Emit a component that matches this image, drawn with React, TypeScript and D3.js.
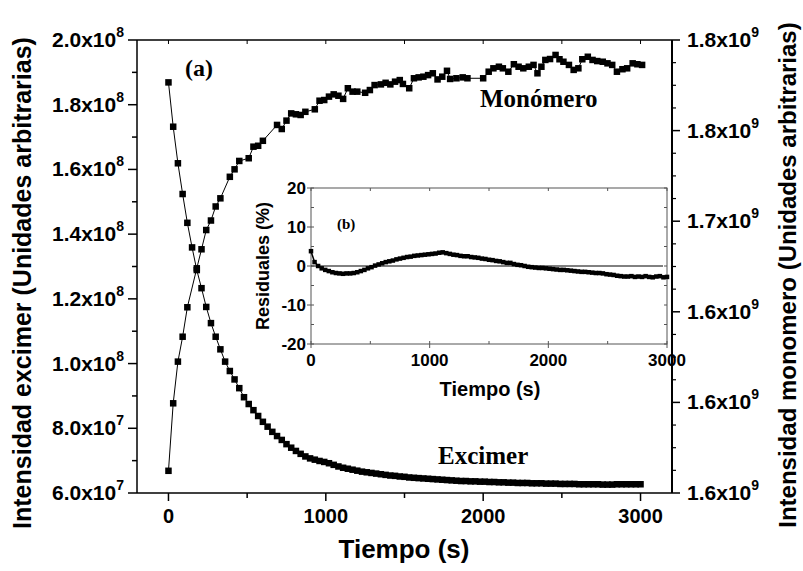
import * as d3 from "d3";

// sample times (s) shared by excimer and residual curves
const sampleTime = [
  0, 30, 60, 90, 120, 150, 180, 210, 240, 270, 300, 330, 360, 390, 420, 450, 480, 510, 540, 570,
  600, 630, 660, 690, 720, 750, 780, 810, 840, 870, 900, 930, 960, 990, 1020, 1050, 1080, 1110,
  1140, 1170, 1200, 1230, 1260, 1290, 1320, 1350, 1380, 1410, 1440, 1470, 1500, 1530, 1560, 1590,
  1620, 1650, 1680, 1710, 1740, 1770, 1800, 1830, 1860, 1890, 1920, 1950, 1980, 2010, 2040, 2070,
  2100, 2130, 2160, 2190, 2220, 2250, 2280, 2310, 2340, 2370, 2400, 2430, 2460, 2490, 2520, 2550,
  2580, 2610, 2640, 2670, 2700, 2730, 2760, 2790, 2820, 2850, 2880, 2910, 2940, 2970, 3000,
];

// excimer intensity, in units of 1e8
const excimer = [
  1.869, 1.732, 1.619, 1.524, 1.435, 1.359, 1.289, 1.233, 1.175, 1.125, 1.083, 1.044, 1.006, 0.977,
  0.951, 0.924, 0.896, 0.875, 0.856, 0.838, 0.82, 0.805, 0.789, 0.776, 0.764, 0.751, 0.74, 0.73,
  0.721, 0.713, 0.707, 0.703, 0.699, 0.696, 0.692, 0.687, 0.682, 0.678, 0.675, 0.672, 0.669, 0.666,
  0.664, 0.662, 0.66, 0.658, 0.656, 0.654, 0.653, 0.651, 0.65, 0.648, 0.647, 0.646, 0.645, 0.644,
  0.643, 0.642, 0.641, 0.64, 0.639, 0.638, 0.637, 0.637, 0.636, 0.636, 0.635, 0.635, 0.634, 0.634,
  0.633, 0.633, 0.632, 0.632, 0.631, 0.631, 0.631, 0.63, 0.63, 0.63, 0.629, 0.629, 0.629, 0.628,
  0.628, 0.628, 0.628, 0.627, 0.627, 0.627, 0.627, 0.627, 0.626, 0.626, 0.626, 0.627, 0.627, 0.627,
  0.627, 0.627, 0.627,
];

// residuals of the fit (%)
const residual = [
  3.8, 1.0, 0.0, -0.6, -1.0, -1.3, -1.6, -1.8, -1.9, -2.0, -1.9, -1.9, -1.8, -1.6, -1.3, -1.0, -0.6,
  -0.3, 0.1, 0.4, 0.7, 1.0, 1.2, 1.4, 1.7, 1.9, 2.1, 2.3, 2.4, 2.6, 2.7, 2.8, 2.9, 3.0, 3.1, 3.2,
  3.4, 3.5, 3.3, 3.1, 2.9, 2.8, 2.6, 2.5, 2.5, 2.3, 2.2, 2.1, 1.9, 1.8, 1.6, 1.5, 1.3, 1.2, 1.0,
  0.8, 0.8, 0.5, 0.3, 0.2, 0.0, -0.2, -0.3, -0.4, -0.5, -0.5, -0.6, -0.7, -0.8, -0.9, -1.0, -1.0,
  -1.1, -1.2, -1.3, -1.4, -1.5, -1.5, -1.6, -1.7, -1.8, -1.8, -1.9, -2.1, -2.2, -2.3, -2.5, -2.6,
  -2.7, -2.7, -2.6, -2.8, -2.7, -2.8, -2.6, -2.8, -2.9, -2.7, -2.6, -2.9, -2.8,
];

// monomer intensity (units of 1e9) and its own sample times
const monomerTime = [
  0, 30, 60, 90, 120, 180, 210, 240, 270, 300, 330, 390, 420, 450, 510, 540, 570, 600, 690, 720,
  750, 780, 810, 840, 870, 930, 960, 990, 1020, 1050, 1080, 1110, 1140, 1170, 1200, 1250, 1280,
  1310, 1350, 1380, 1410, 1440, 1470, 1490, 1530, 1560, 1590, 1620, 1650, 1680, 1710, 1740, 1770,
  1790, 1830, 1870, 1900, 2000, 2035, 2065, 2100, 2125, 2160, 2195, 2225, 2255, 2290, 2320, 2345,
  2370, 2395, 2425, 2460, 2485, 2510, 2545, 2575, 2605, 2630, 2665, 2695, 2725, 2760, 2790, 2820,
  2850, 2885, 2915, 2950, 2980, 3010,
];
const monomer = [
  1.6098, 1.6396, 1.658, 1.669, 1.682, 1.6992, 1.7076, 1.7161, 1.7203, 1.7265, 1.7301, 1.7396,
  1.7429, 1.7466, 1.7478, 1.7529, 1.7533, 1.7555, 1.7625, 1.7607, 1.7644, 1.7676, 1.7672, 1.7669,
  1.7683, 1.7694, 1.7732, 1.7735, 1.775, 1.776, 1.7754, 1.774, 1.7787, 1.7772, 1.7772, 1.7767,
  1.7779, 1.7801, 1.7804, 1.7811, 1.7804, 1.7816, 1.7823, 1.7806, 1.7787, 1.7831, 1.7835, 1.7838,
  1.7845, 1.7853, 1.7826, 1.7838, 1.7864, 1.7828, 1.7831, 1.7835, 1.7831, 1.7831, 1.786, 1.7875,
  1.7882, 1.7875, 1.786, 1.7893, 1.7882, 1.7875, 1.7882, 1.789, 1.7853, 1.7882, 1.7912, 1.7916,
  1.7934, 1.7915, 1.7904, 1.789, 1.7868, 1.7875, 1.7915, 1.7926, 1.7912, 1.7907, 1.7904, 1.7897,
  1.789, 1.786, 1.7871, 1.7875, 1.7897, 1.7893, 1.789,
];

const timeTicks = [0, 1000, 2000, 3000];
const timeMinor = [500, 1500, 2500];
const leftTicks = [6e7, 8e7, 1e8, 1.2e8, 1.4e8, 1.6e8, 1.8e8, 2e8];
const rightTicks = [1.6e9, 1.64e9, 1.68e9, 1.72e9, 1.76e9, 1.8e9];
const rightLabels = ["1.6", "1.6", "1.6", "1.7", "1.8", "1.8"];
const residTicks = [-20, -10, 0, 10, 20];
const residMinor = [-15, -5, 5, 15];
const insetTimeTicks = [0, 1000, 2000, 3000];

const SANS = "'Liberation Sans', Arial, sans-serif";
const SERIF = "'Liberation Serif', 'Times New Roman', serif";

const W = 803;
const H = 571;
const fr = { left: 137, right: 672, top: 40, bottom: 493 };
const ins = { left: 311, right: 667, top: 188, bottom: 344 };

function Sci({ x, y, mant, exp, anchor }) {
  return (
    <text x={x} y={y} textAnchor={anchor} fontFamily={SANS} fontWeight="bold" fontSize={21}>
      {mant}x10
      <tspan dy={-10} fontSize={14}>
        {exp}
      </tspan>
    </text>
  );
}

export default function App() {
  const x = d3.scaleLinear().domain([-200, 3200]).range([fr.left, fr.right]);
  const yL = d3.scaleLinear().domain([6e7, 2e8]).range([fr.bottom, fr.top]);
  const yR = d3.scaleLinear().domain([1.6e9, 1.8e9]).range([fr.bottom, fr.top]);
  const xi = d3.scaleLinear().domain([0, 3000]).range([ins.left, ins.right]);
  const yi = d3.scaleLinear().domain([-20, 20]).range([ins.bottom, ins.top]);

  const exPts = sampleTime.map((t, i) => [x(t), yL(excimer[i] * 1e8)]);
  const moPts = monomerTime.map((t, i) => [x(t), yR(monomer[i] * 1e9)]);
  const rePts = sampleTime.map((t, i) => [xi(t), yi(residual[i])]);
  const line = d3.line();

  const leftMinor = d3.range(7e7, 2e8, 2e7);
  const rightMinor = d3.range(1.6e9, 1.8e9 + 1, 1e7).filter((v, i) => i % 4 !== 0);
  const topTicks = [...timeTicks, ...timeMinor];

  const sq = 6.5;
  const sqi = 4.5;

  return (
    <svg width={W} height={H} style={{ position: "absolute", left: 0, top: 0, background: "#fff" }}>
      {/* main frame */}
      <line x1={fr.left} x2={fr.right} y1={fr.top} y2={fr.top} stroke="#000" strokeWidth={1.5} />
      <line x1={fr.left} x2={fr.right} y1={fr.bottom} y2={fr.bottom} stroke="#000" strokeWidth={1.5} />
      <line x1={fr.left} x2={fr.left} y1={fr.top} y2={fr.bottom} stroke="#000" strokeWidth={1.5} />
      <line x1={fr.right} x2={fr.right} y1={fr.top} y2={fr.bottom} stroke="#000" strokeWidth={2} />

      {/* bottom axis */}
      {timeTicks.map((t) => (
        <g key={"bt" + t}>
          <line x1={x(t)} x2={x(t)} y1={fr.bottom} y2={fr.bottom + 8} stroke="#000" strokeWidth={1.5} />
          <text x={x(t)} y={fr.bottom + 30} textAnchor="middle" fontFamily={SANS} fontWeight="bold" fontSize={20}>
            {t}
          </text>
        </g>
      ))}
      {timeMinor.map((t) => (
        <line key={"bm" + t} x1={x(t)} x2={x(t)} y1={fr.bottom} y2={fr.bottom + 5} stroke="#000" strokeWidth={1.5} />
      ))}
      {topTicks.map((t) => (
        <line key={"tt" + t} x1={x(t)} x2={x(t)} y1={fr.top} y2={fr.top + 4} stroke="#000" strokeWidth={1} />
      ))}

      {/* left axis */}
      {leftTicks.map((v) => {
        const e = Math.floor(Math.log10(v));
        return (
          <g key={"lt" + v}>
            <line x1={fr.left - 9} x2={fr.left} y1={yL(v)} y2={yL(v)} stroke="#000" strokeWidth={1.5} />
            <Sci x={fr.left - 13} y={yL(v) + 7} mant={(v / 10 ** e).toFixed(1)} exp={e} anchor="end" />
          </g>
        );
      })}
      {leftMinor.map((v) => (
        <line key={"lm" + v} x1={fr.left - 5} x2={fr.left} y1={yL(v)} y2={yL(v)} stroke="#000" strokeWidth={1.5} />
      ))}

      {/* right axis */}
      {rightTicks.map((v, i) => (
        <g key={"rt" + v}>
          <line x1={fr.right} x2={fr.right + 8} y1={yR(v)} y2={yR(v)} stroke="#000" strokeWidth={1.5} />
          <Sci x={fr.right + 15} y={yR(v) + 7} mant={rightLabels[i]} exp={9} anchor="start" />
        </g>
      ))}
      {rightMinor.map((v) => (
        <line key={"rm" + v} x1={fr.right} x2={fr.right + 4} y1={yR(v)} y2={yR(v)} stroke="#000" strokeWidth={1.2} />
      ))}

      {/* axis titles */}
      <text transform="translate(22,283) rotate(-90)" dy="0.35em" textAnchor="middle" fontFamily={SANS} fontWeight="bold" fontSize={25}>
        Intensidad excimer (Unidades arbitrarias)
      </text>
      <text transform="translate(788,275) rotate(-90)" dy="0.35em" textAnchor="middle" fontFamily={SANS} fontWeight="bold" fontSize={24}>
        Intensidad monomero (Unidades arbitrarias)
      </text>
      <text x={404} y={558} textAnchor="middle" fontFamily={SANS} fontWeight="bold" fontSize={26}>
        Tiempo (s)
      </text>

      {/* data */}
      <path d={line(exPts)} fill="none" stroke="#000" strokeWidth={1} />
      <path d={line(moPts)} fill="none" stroke="#000" strokeWidth={1} />
      {exPts.map(([px, py], i) => (
        <rect key={"e" + i} x={px - sq / 2} y={py - sq / 2} width={sq} height={sq} fill="#000" />
      ))}
      {moPts.map(([px, py], i) => (
        <rect key={"m" + i} x={px - sq / 2} y={py - sq / 2} width={sq} height={sq} fill="#000" />
      ))}

      <text x={185} y={76} fontFamily={SERIF} fontWeight="bold" fontSize={24}>(a)</text>
      <text x={480} y={107} fontFamily={SERIF} fontWeight="bold" fontSize={25}>Monómero</text>
      <text x={438} y={464} fontFamily={SERIF} fontWeight="bold" fontSize={25}>Excimer</text>

      {/* inset */}
      <rect x={ins.left} y={ins.top} width={ins.right - ins.left} height={ins.bottom - ins.top} fill="none" stroke="#555" strokeWidth={1} />
      <line x1={ins.left} x2={ins.right - 4} y1={yi(0)} y2={yi(0)} stroke="#000" strokeWidth={1} />
      {insetTimeTicks.map((t) => (
        <g key={"it" + t}>
          <line x1={xi(t)} x2={xi(t)} y1={ins.bottom} y2={ins.bottom + 4} stroke="#555" />
          <text x={xi(t)} y={ins.bottom + 22} textAnchor="middle" fontFamily={SANS} fontWeight="bold" fontSize={17}>
            {t}
          </text>
        </g>
      ))}
      {[...insetTimeTicks, ...timeMinor].map((t) => (
        <g key={"im" + t}>
          <line x1={xi(t)} x2={xi(t)} y1={ins.bottom} y2={ins.bottom - 3} stroke="#555" />
          <line x1={xi(t)} x2={xi(t)} y1={ins.top} y2={ins.top + 3} stroke="#555" />
        </g>
      ))}
      {residTicks.map((v) => (
        <g key={"ir" + v}>
          <line x1={ins.left - 4} x2={ins.left} y1={yi(v)} y2={yi(v)} stroke="#555" />
          <text x={ins.left - 5} y={yi(v) + 6} textAnchor="end" fontFamily={SANS} fontWeight="bold" fontSize={17}>
            {v}
          </text>
        </g>
      ))}
      {[...residTicks, ...residMinor].map((v) => (
        <g key={"irm" + v}>
          <line x1={ins.left} x2={ins.left + 3} y1={yi(v)} y2={yi(v)} stroke="#555" />
          <line x1={ins.right} x2={ins.right - 3} y1={yi(v)} y2={yi(v)} stroke="#555" />
        </g>
      ))}
      <text transform="translate(263,266) rotate(-90)" dy="0.35em" textAnchor="middle" fontFamily={SANS} fontWeight="bold" fontSize={18}>
        Residuales (%)
      </text>
      <text x={490} y={396} textAnchor="middle" fontFamily={SANS} fontWeight="bold" fontSize={20}>
        Tiempo (s)
      </text>
      <text x={337} y={229} fontFamily={SERIF} fontWeight="bold" fontSize={15}>(b)</text>
      <path d={line(rePts)} fill="none" stroke="#000" strokeWidth={1.5} />
      {rePts.map(([px, py], i) => (
        <rect key={"r" + i} x={px - sqi / 2} y={py - sqi / 2} width={sqi} height={sqi} fill="#000" />
      ))}
    </svg>
  );
}
